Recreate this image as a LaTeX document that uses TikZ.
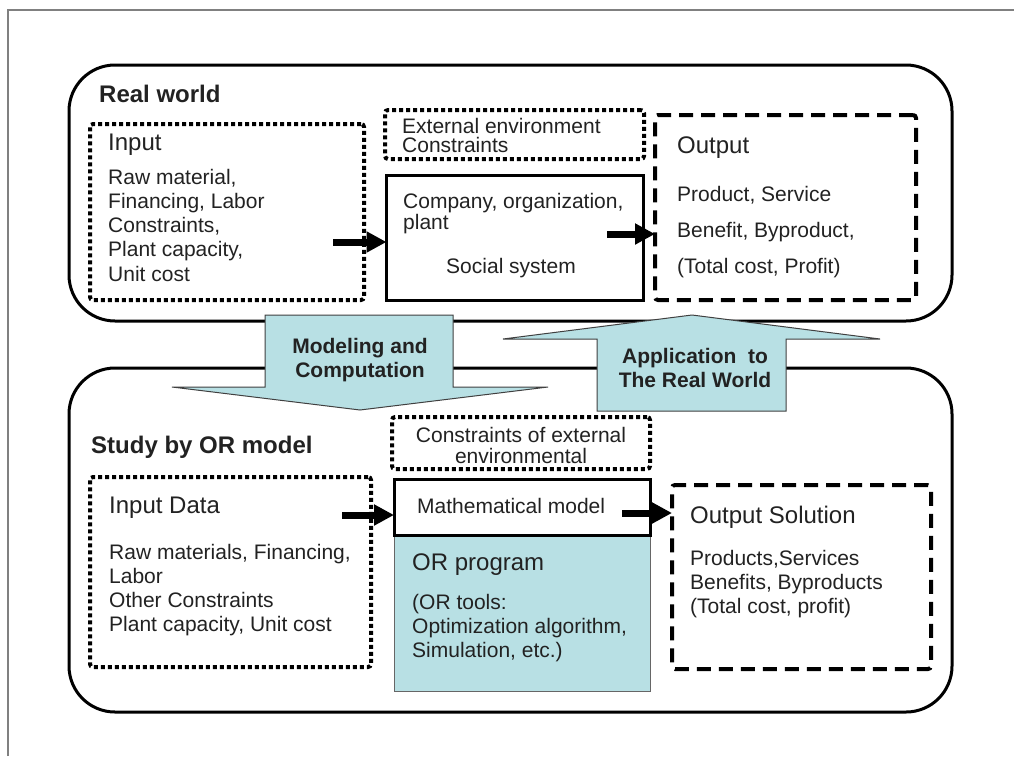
\documentclass[tikz,border=0pt]{standalone}
\usepackage{fontspec}
\setmainfont{Liberation Sans}
\usetikzlibrary{arrows.meta}
\definecolor{tealf}{RGB}{184,224,228}
\definecolor{txtc}{RGB}{34,34,34}
\definecolor{framec}{RGB}{128,128,128}
\tikzset{
  box/.style={draw=black, inner sep=0pt, outer sep=0pt},
  bigbox/.style={box, line width=3pt, rounded corners=46pt},
  dotbox/.style={box, line width=4pt, dash pattern=on 4pt off 3pt, rounded corners=3pt},
  dashbox/.style={box, line width=4pt, dash pattern=on 14pt off 8pt, rounded corners=3pt},
  solidbox/.style={box, line width=3pt},
  orbox/.style={box, draw=black!60, line width=1pt, fill=tealf},
  blockarrow/.style={fill=tealf, draw=black!75, line width=1pt},
  arr/.style={line width=7pt, -{Triangle[length=20pt,width=20pt]}},
  txt/.style={inner sep=0pt, anchor=base west, text=txtc, font=\fontsize{21}{24}\selectfont},
  txtc/.style={txt, anchor=base},
  ttl/.style={txt, font=\fontsize{24}{28}\selectfont},
  hdr/.style={txt, font=\fontsize{24}{28}\selectfont\bfseries},
  bat/.style={txt, anchor=base, font=\fontsize{21}{24}\selectfont\bfseries},
}
\begin{document}
\begin{tikzpicture}[x=1pt,y=-1pt]
\useasboundingbox (0,0) rectangle (1014,756);
\fill[white] (0,0) rectangle (1014,756);
% outer frame
\draw[framec, line width=1.5pt] (8,756) -- (8,10) -- (1014,10);
% big rounded boxes
\node[bigbox, minimum width=883pt, minimum height=256pt] (real) at (510.5,193) {};
\node[bigbox, minimum width=883pt, minimum height=344pt] (study) at (510.5,540) {};
% upper inner boxes
\node[dotbox, minimum width=274pt, minimum height=176pt] (in) at (227,212) {};
\node[dotbox, minimum width=259pt, minimum height=49pt] (ext) at (514.5,134.5) {};
\node[solidbox, minimum width=257pt, minimum height=124.5pt] (co) at (515,237.75) {};
\node[dashbox, minimum width=261pt, minimum height=185pt] (out) at (785.5,207.5) {};
% lower inner boxes
\node[dotbox, minimum width=258pt, minimum height=52pt] (cons) at (521,443) {};
\node[dotbox, minimum width=281pt, minimum height=190pt] (ind) at (230.5,572) {};
\node[orbox, minimum width=256pt, minimum height=156pt] (orp) at (522,613) {};
\node[solidbox, fill=white, minimum width=256pt, minimum height=56pt] (math) at (522,507) {};
\node[dashbox, minimum width=259pt, minimum height=184pt] (outs) at (801.5,577) {};
% connectors
\coordinate (a1) at (333,242);
\coordinate (a2) at (607,234);
\coordinate (a3) at (342,515);
\coordinate (a4) at (622,513);
\draw[arr] (a1) -- (a1 -| co.west);
\draw[arr] (a2) -- (a2 -| out.west);
\draw[arr] (a3) -- (a3 -| math.west);
\draw[arr] (a4) -- (a4 -| outs.west);
% block arrows
\filldraw[blockarrow] (265,315) -- (453,315) -- (453,387) -- (548,387) -- (360,410) -- (172,387) -- (265,387) -- cycle;
\filldraw[blockarrow] (597,411) -- (786,411) -- (786,339) -- (880,339) -- (692,315) -- (503,339) -- (597,339) -- cycle;
\node[bat] (m1) at (360,353) {Modeling and};
\node[bat] (m2) at (360,377) {Computation};
\node[bat] (p1) at (695,363) {Application\ \ to};
\node[bat] (p2) at (695,387) {The Real World};
% upper texts
\node[hdr] (t1) at (99,102) {Real world};
\node[ttl] (t2) at (108,150) {Input};
\node[txt] (t3) at (108,184) {Raw material,};
\node[txt] (t4) at (108,208) {Financing, Labor};
\node[txt] (t5) at (108,232) {Constraints,};
\node[txt] (t6) at (108,256) {Plant capacity,};
\node[txt] (t7) at (108,281) {Unit cost};
\node[txt] (t8) at (402,133) {External environment};
\node[txt] (t9) at (402,152) {Constraints};
\node[txt] (t10) at (403,208) {Company, organization,};
\node[txt] (t11) at (403,229) {plant};
\node[txtc] (t12) at (511,273) {Social system};
\node[ttl] (t13) at (677,153) {Output};
\node[txt] (t14) at (677,201) {Product, Service};
\node[txt] (t15) at (677,237) {Benefit, Byproduct,};
\node[txt] (t16) at (677,273) {(Total cost, Profit)};
% lower texts
\node[hdr] (s1) at (91,453) {Study by OR model};
\node[txtc] (s2) at (521,442) {Constraints of external};
\node[txtc] (s3) at (521,463) {environmental};
\node[ttl] (s4) at (109,513) {Input Data};
\node[txt] (s5) at (109,559) {Raw materials, Financing,};
\node[txt] (s6) at (109,583) {Labor};
\node[txt] (s7) at (109,607) {Other Constraints};
\node[txt] (s8) at (109,631) {Plant capacity, Unit cost};
\node[txt] (s9) at (417,513) {Mathematical model};
\node[ttl] (s10) at (412,570) {OR program};
\node[txt] (s11) at (412,609) {(OR tools:};
\node[txt] (s12) at (412,633) {Optimization algorithm,};
\node[txt] (s13) at (412,657) {Simulation, etc.)};
\node[ttl] (s14) at (690,523) {Output Solution};
\node[txt] (s15) at (690,565) {Products,Services};
\node[txt] (s16) at (690,589) {Benefits, Byproducts};
\node[txt] (s17) at (690,613) {(Total cost, profit)};
\end{tikzpicture}
\end{document}
